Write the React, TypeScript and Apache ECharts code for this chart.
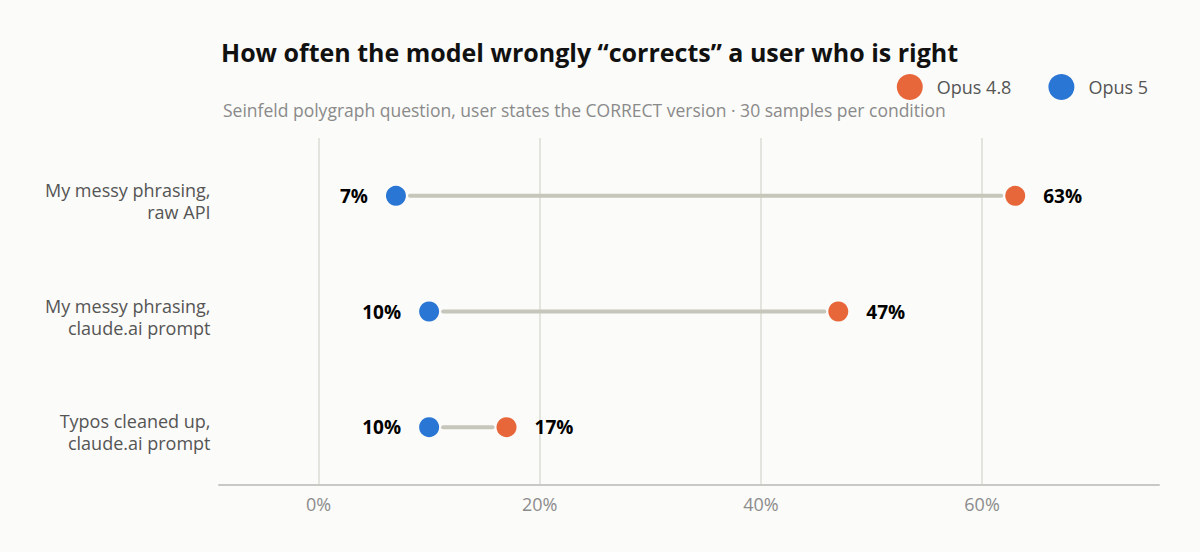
import React, { useEffect, useRef } from "react";
import * as echarts from "echarts";

const categories = [
  "My messy phrasing,\nraw API",
  "My messy phrasing,\nclaude.ai prompt",
  "Typos cleaned up,\nclaude.ai prompt",
];
const opus48 = [63, 47, 17];
const opus5 = [7, 10, 10];
const gridTicks = [0, 20, 40, 60];
const X_MIN = -9;
const X_MAX = 76;

const TITLE = "How often the model wrongly “corrects” a user who is right";
const SUBTITLE =
  "Seinfeld polygraph question, user states the CORRECT version · 30 samples per condition";

const ORANGE = "#E8673A";
const BLUE = "#2A76D4";
const FONT = "'Open Sans', 'Noto Sans', sans-serif";

export default function App() {
  const ref = useRef<HTMLDivElement>(null);
  useEffect(() => {
    if (!ref.current) return;
    const chart = echarts.init(ref.current, undefined, { renderer: "svg" });
    const lineData = categories.map((_, i) => [
      Math.min(opus48[i], opus5[i]),
      i,
      Math.max(opus48[i], opus5[i]),
    ]);
    chart.setOption({
      animation: false,
      backgroundColor: "#fbfbf9",
      textStyle: { fontFamily: FONT },
      title: [
        {
          text: TITLE,
          left: 216,
          top: 34,
          textStyle: { fontSize: 25, fontWeight: "bold", color: "#111", fontFamily: FONT },
        },
        {
          text: SUBTITLE,
          left: 218,
          top: 96,
          textStyle: { fontSize: 17.5, fontWeight: "normal", color: "#8a8a8a", fontFamily: FONT },
        },
      ],
      legend: {
        right: 47,
        top: 69,
        itemWidth: 26,
        itemHeight: 26,
        itemGap: 37,
        icon: "circle",
        textStyle: { fontSize: 18, color: "#555", fontFamily: FONT, padding: [0, 0, 0, 9] },
        data: ["Opus 4.8", "Opus 5"],
      },
      grid: { left: 219, right: 41, top: 138, bottom: 67, containLabel: false },
      xAxis: {
        type: "value",
        min: X_MIN,
        max: X_MAX,
        axisLine: { show: true, lineStyle: { color: "#c8c8c4", width: 2 } },
        axisTick: { show: false },
        splitLine: { show: false },
        axisLabel: {
          show: true,
          customValues: gridTicks,
          margin: 10,
          formatter: (v: number) => `{t|${v}%}`,
          rich: {
            t: { fontSize: 18, color: "#8c8c8c", fontFamily: FONT },
          },
        },
      },
      yAxis: {
        type: "category",
        data: categories,
        inverse: true,
        axisLine: { show: false },
        axisTick: { show: false },
        splitLine: { show: false },
        axisLabel: { show: false },
      },
      series: [
        {
          type: "custom",
          name: "range",
          silent: true,
          z: 1,
          data: lineData,
          renderItem: (params: any, api: any) => {
            const a = api.coord([api.value(0), api.value(1)]);
            const b = api.coord([api.value(2), api.value(1)]);
            const gap = 14;
            return {
              type: "line",
              shape: { x1: a[0] + gap, y1: a[1], x2: b[0] - gap, y2: b[1] },
              style: { stroke: "#c6c6bb", lineWidth: 4, lineCap: "round" },
            };
          },
        },
        {
          type: "scatter",
          name: "categoryLabels",
          silent: true,
          clip: false,
          symbol: "circle",
          symbolSize: 1,
          itemStyle: { color: "rgba(0,0,0,0)" },
          data: categories.map((c, i) => [X_MIN, i]),
          label: {
            show: true,
            position: "left",
            distance: 8,
            offset: [0, 5],
            align: "right",
            formatter: (p: any) => categories[p.dataIndex],
            fontSize: 18,
            lineHeight: 22,
            color: "#555",
            opacity: 1,
            fontFamily: FONT,
          },
        },
        {
          type: "scatter",
          name: "Opus 4.8",
          z: 3,
          symbol: "circle",
          symbolSize: 20,
          itemStyle: { color: ORANGE, opacity: 1 },
          data: opus48.map((v, i) => [v, i]),
          label: {
            show: true,
            position: "right",
            distance: 18,
            formatter: (p: any) => `${p.value[0]}%`,
            fontSize: 19,
            fontWeight: "bold",
            color: "#000",
            opacity: 1,
            fontFamily: FONT,
          },
          markLine: {
            silent: true,
            symbol: "none",
            label: { show: false },
            lineStyle: { color: "#dcdcd6", width: 1.5, type: "solid", opacity: 1 },
            data: gridTicks.map((v) => ({ xAxis: v })),
            z: 0,
          },
        },
        {
          type: "scatter",
          name: "Opus 5",
          z: 3,
          symbol: "circle",
          symbolSize: 20,
          itemStyle: { color: BLUE, opacity: 1 },
          data: opus5.map((v, i) => [v, i]),
          label: {
            show: true,
            position: "left",
            distance: 18,
            formatter: (p: any) => `${p.value[0]}%`,
            fontSize: 19,
            fontWeight: "bold",
            color: "#000",
            opacity: 1,
            fontFamily: FONT,
          },
        },
      ],
    });
    return () => chart.dispose();
  }, []);
  return (
    <div
      ref={ref}
      style={{ position: "absolute", left: 0, top: 0, width: 1200, height: 552 }}
    />
  );
}
